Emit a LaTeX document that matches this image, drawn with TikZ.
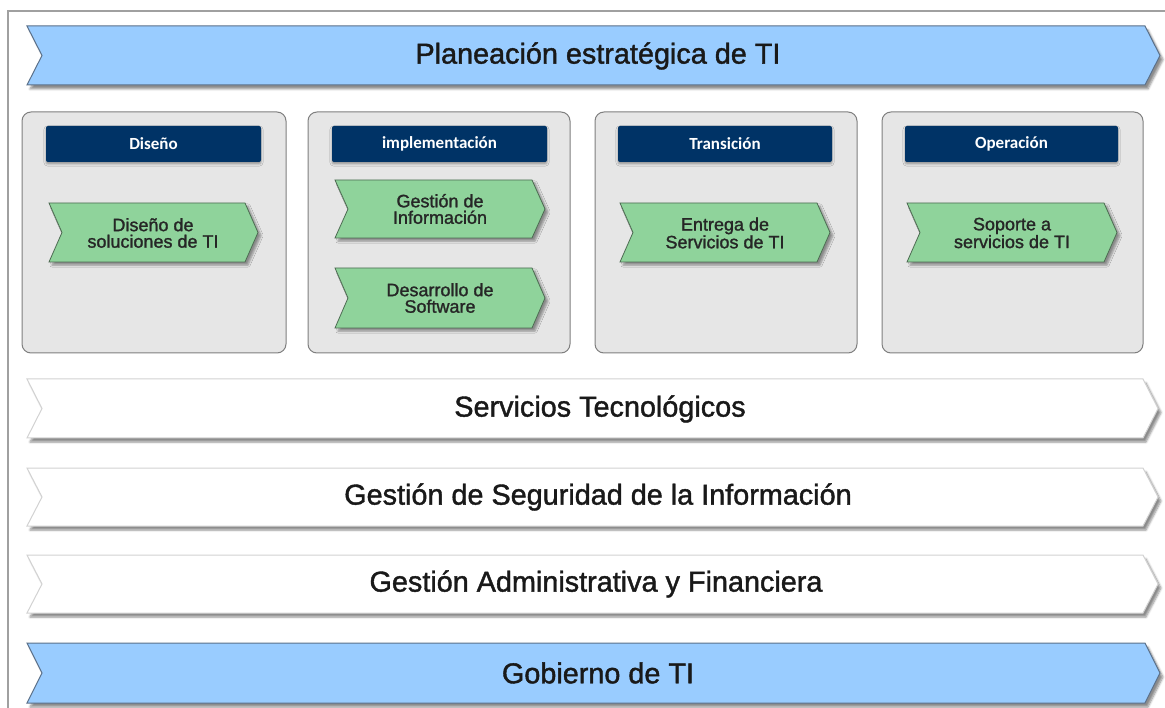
\documentclass[tikz,border=0pt]{standalone}
\usepackage{fontspec}
\setmainfont{Liberation Sans}
\newfontfamily\heavyfont[FakeBold=1.4]{Liberation Sans}
\newfontfamily\hdrfont{Carlito}
\usetikzlibrary{shadows.blur}
\definecolor{barblue}{HTML}{99CCFF}
\definecolor{barblueline}{HTML}{5B7089}
\definecolor{navy}{HTML}{003366}
\definecolor{leaf}{HTML}{8FD39B}
\definecolor{leafline}{HTML}{4D6B52}
\definecolor{panel}{HTML}{E6E6E6}
\definecolor{panelline}{HTML}{7F7F7F}
\definecolor{frameline}{HTML}{A0A0A0}
\definecolor{ghost}{HTML}{D2D2D2}
\newcommand\chevronpath[6][]{%
  \path[#1] (#2,#3) -- ({#4-#6},#3) -- (#4,{(#3+#5)/2}) -- ({#4-#6},#5) -- (#2,#5) -- ({#2+#6},{(#3+#5)/2}) -- cycle;}
\tikzset{
  softshadow/.style={blur shadow={shadow xshift=3pt, shadow yshift=-4pt, shadow blur steps=6, shadow opacity=45}},
  bluebar/.style={fill=barblue, draw=barblueline, line width=1pt, softshadow},
  whitebar/.style={fill=white, draw=ghost, line width=1pt, softshadow},
  leafbar/.style={fill=leaf, draw=leafline, line width=0.8pt, blur shadow={shadow xshift=3pt, shadow yshift=-3pt, shadow blur steps=5, shadow opacity=40}},
  panelbox/.style={fill=panel, draw=panelline, line width=1pt, rounded corners=9pt},
  hdrbox/.style={fill=navy, rounded corners=2pt, blur shadow={shadow xshift=0pt, shadow yshift=-2pt, shadow blur steps=3, shadow opacity=35}},
  bigtext/.style={font=\heavyfont\fontsize{28.8}{32}\selectfont, text=black!90, inner sep=0pt},
  leaftext/.style={font=\heavyfont\fontsize{18}{16.5}\selectfont, align=center, text=black!85, inner sep=0pt},
  hdrtext/.style={font=\hdrfont\bfseries\fontsize{17}{20}\selectfont, text=white, inner sep=0pt},
}
\begin{document}
\begin{tikzpicture}[x=1pt,y=-1pt]
\useasboundingbox (0,0) rectangle (1165,708);
% outer frame
\draw[frameline, line width=2pt] (1167,11) -- (8,11) -- (8,710);
% top bar
\chevronpath[bluebar]{27}{26}{1160}{85}{15}
\node[bigtext] (plan) at (598,56) {Planeación estratégica de TI};
% panels
\draw[panelbox] (22,112) rectangle (286,353);
\draw[panelbox] (308,112) rectangle (570,353);
\draw[panelbox] (595,112) rectangle (857,353);
\draw[panelbox] (882,112) rectangle (1143,353);
% headers
\path[hdrbox] (46,126) rectangle (261,162);
\path[hdrbox] (332,126) rectangle (547,162);
\path[hdrbox] (618,126) rectangle (832,162);
\path[hdrbox] (905,126) rectangle (1118,162);
\node[hdrtext] (h1) at (153.5,144) {Diseño};
\node[hdrtext] (h2) at (439.5,144) {implementación};
\node[hdrtext] (h3) at (725,144) {Transición};
\node[hdrtext] (h4) at (1011.5,144) {Operación};
% green chevrons
\chevronpath[leafbar]{49}{203}{258}{262}{13}
\chevronpath[leafbar]{335}{180}{545}{238}{13}
\chevronpath[leafbar]{335}{268}{545}{328}{13}
\chevronpath[leafbar]{620}{203}{830}{262}{13}
\chevronpath[leafbar]{907}{203}{1117}{262}{13}
\node[leaftext] (g1) at (153,233) {Diseño de\\soluciones de TI};
\node[leaftext] (g2) at (440,209) {Gestión de\\Información};
\node[leaftext] (g3) at (440,298) {Desarrollo de\\Software};
\node[leaftext] (g4) at (725,233) {Entrega de\\Servicios de TI};
\node[leaftext] (g5) at (1012,233) {Soporte a\\servicios de TI};
% white bars
\chevronpath[whitebar]{27}{379}{1158}{438}{15}
\chevronpath[whitebar]{27}{468}{1158}{526}{15}
\chevronpath[whitebar]{27}{555}{1158}{613}{15}
\node[bigtext] (s1) at (600,409) {Servicios Tecnológicos};
\node[bigtext] (s2) at (598,497) {Gestión de Seguridad de la Información};
\node[bigtext] (s3) at (596,584) {Gestión Administrativa y Financiera};
% bottom bar
\chevronpath[bluebar]{27}{643}{1160}{703}{15}
\node[bigtext] (gob) at (598,673) {Gobierno de TI};
\end{tikzpicture}
\end{document}
